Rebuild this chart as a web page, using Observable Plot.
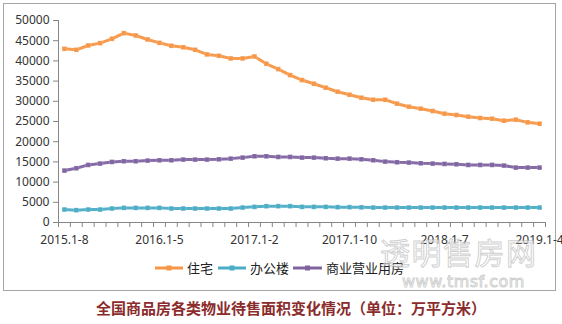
<!DOCTYPE html>
<html><head><meta charset="utf-8">
<script src="https://cdn.jsdelivr.net/npm/d3@7"></script>
<script src="https://cdn.jsdelivr.net/npm/@observablehq/plot@0.6"></script>
<style>
html,body{margin:0;padding:0;background:#fff;}
#wrap{position:relative;width:562px;height:324px;overflow:hidden;font-family:"Noto Sans",sans-serif;}
#box{position:absolute;left:3px;top:3px;width:553px;height:288px;border:1px solid #a6a6a6;box-sizing:border-box;}
#chart{position:absolute;left:0;top:0;}
#legend{position:absolute;left:0;top:259px;width:562px;height:20px;}
#title{position:absolute;left:0;top:298px;width:582px;text-align:center;font-family:"Noto Sans CJK SC",sans-serif;font-weight:bold;font-size:15px;line-height:20px;color:#8b2c2c;}
.wm{position:absolute;color:rgba(255,255,255,0.6);-webkit-text-stroke:1px rgba(175,175,175,0.6);white-space:nowrap;pointer-events:none;line-height:1;}
</style></head>
<body><div id="wrap"><div id="box"></div><div id="chart"></div><div id="legend"></div>
<div class="wm" style="left:380px;top:236px;font-size:30px;letter-spacing:1.5px;font-family:'Noto Sans CJK SC',sans-serif;">透明售房网</div>
<div class="wm" style="left:402px;top:274px;font-size:16px;letter-spacing:0.5px;font-family:'DejaVu Sans',sans-serif;">www.tmsf.com</div>
<div id="title">全国商品房各类物业待售面积变化情况（单位：万平方米）</div></div>
<script>
const periods = [
  "2015.1-8","2015.1-9","2015.1-10","2015.1-11","2015.1-12",
  "2016.1-2","2016.1-3","2016.1-4","2016.1-5","2016.1-6","2016.1-7","2016.1-8","2016.1-9","2016.1-10","2016.1-11","2016.1-12",
  "2017.1-2","2017.1-3","2017.1-4","2017.1-5","2017.1-6","2017.1-7","2017.1-8","2017.1-9","2017.1-10","2017.1-11","2017.1-12",
  "2018.1-2","2018.1-3","2018.1-4","2018.1-5","2018.1-6","2018.1-7","2018.1-8","2018.1-9","2018.1-10","2018.1-11","2018.1-12",
  "2019.1-2","2019.1-3","2019.1-4"];
const xTickLabels = ["2015.1-8","2016.1-5","2017.1-2","2017.1-10","2018.1-7","2019.1-4"];
const yTicks = [0,5000,10000,15000,20000,25000,30000,35000,40000,45000,50000];
const seriesNames = ["住宅","办公楼","商业营业用房"];
const seriesColors = ["#f79646","#4bacc6","#8064a2"];
const residential = [43000,42750,43820,44400,45470,46870,46290,45300,44470,43740,43370,42750,41600,41270,40610,40610,41100,39290,37970,36490,35260,34350,33360,32370,31630,30890,30390,30390,29410,28660,28170,27590,26930,26610,26190,25860,25700,25200,25450,24790,24460];
const office = [3210,3050,3210,3210,3460,3620,3620,3620,3620,3460,3460,3460,3460,3460,3460,3700,3870,4040,4040,4040,3870,3870,3870,3800,3800,3750,3700,3700,3700,3700,3700,3700,3700,3700,3700,3700,3700,3700,3700,3700,3700];
const commercial = [12850,13430,14250,14580,14990,15160,15160,15320,15400,15400,15570,15570,15570,15650,15810,16060,16390,16390,16230,16230,16060,16060,15900,15810,15810,15650,15400,15070,14910,14830,14660,14580,14500,14410,14250,14250,14250,14090,13590,13590,13590];

const allSeries = [residential, office, commercial];
const data = [];
allSeries.forEach((vals, s) => vals.forEach((v, i) => data.push({period: periods[i], value: v, series: seriesNames[s]})));

const W = 562, H = 290, ML = 58, MR = 17, MT = 20, MB = 68;
const step = (W - ML - MR) / periods.length;
const axisColor = "#868686";

const chart = Plot.plot({
  width: W, height: H, marginLeft: ML, marginRight: MR, marginTop: MT, marginBottom: MB,
  style: {fontFamily: "'Noto Sans', sans-serif", fontSize: "12px", color: "#333", background: "transparent", overflow: "visible"},
  x: {type: "point", domain: periods, padding: 0.5, axis: null},
  y: {domain: [0, 50000], axis: null},
  color: {domain: seriesNames, range: seriesColors},
  marks: [
    Plot.axisY({ticks: yTicks, tickSize: 5, tickPadding: 4, fontSize: 12, stroke: axisColor, fill: "#333", label: null, tickFormat: d => String(d)}),
    Plot.ruleX([periods[0]], {dx: -step / 2, stroke: axisColor}),
    Plot.ruleY([0], {stroke: axisColor}),
    Plot.axisX({ticks: periods, tickSize: 5, dx: -step / 2, stroke: axisColor, label: null, tickFormat: () => ""}),
    Plot.axisX({ticks: [periods[periods.length - 1]], tickSize: 5, dx: step / 2, stroke: axisColor, label: null, tickFormat: () => ""}),
    Plot.axisX({ticks: xTickLabels, tickSize: 0, tickPadding: 13, fontSize: 12, fill: "#333", label: null, tickFormat: d => d}),
    Plot.line(data, {x: "period", y: "value", stroke: "series", z: "series", strokeWidth: 3, strokeOpacity: 0.95}),
    Plot.dot(data, {x: "period", y: "value", fill: "series", symbol: "square", r: 2.6, stroke: "white", strokeOpacity: 0.35, strokeWidth: 0.5})
  ]
});
document.getElementById("chart").appendChild(chart);

// legend
const leg = d3.select("#legend").append("svg").attr("width", 562).attr("height", 20);
const legX = [155, 218, 293];
const legLen = [28, 28, 29];
seriesNames.forEach((n, i) => {
  const g = leg.append("g").attr("transform", `translate(${legX[i]},9)`);
  g.append("line").attr("x1", 0).attr("x2", legLen[i]).attr("y1", 0).attr("y2", 0).attr("stroke", seriesColors[i]).attr("stroke-width", 3);
  g.append("rect").attr("x", legLen[i] / 2 - 2.5).attr("y", -2.5).attr("width", 5).attr("height", 5).attr("fill", seriesColors[i]);
  g.append("text").attr("x", legLen[i] + 4).attr("y", 0).attr("dy", "0.36em").attr("font-size", 13).attr("fill", "#222")
    .attr("font-family", "'Noto Sans CJK SC', sans-serif").text(n);
});
</script></body></html>
